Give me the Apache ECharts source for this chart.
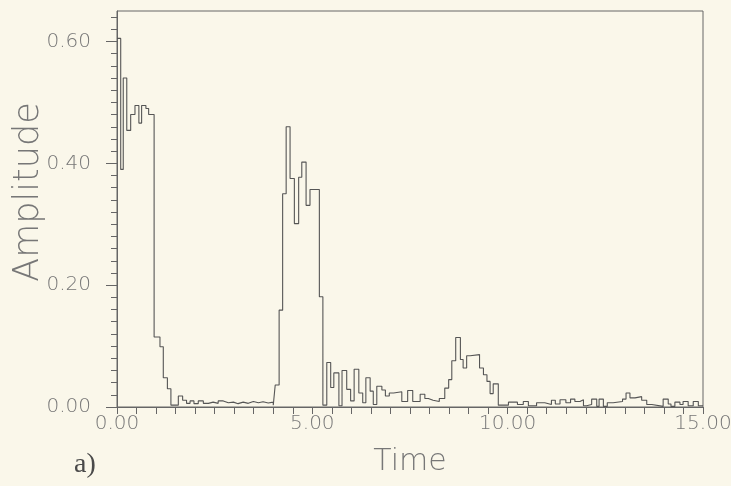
<!DOCTYPE html>
<html>
<head>
<meta charset="utf-8">
<script src="https://cdn.jsdelivr.net/npm/echarts@6/dist/echarts.min.js"></script>
<style>
  html, body { margin: 0; padding: 0; background: #faf7ea; }
  #chart { width: 731px; height: 486px; }
</style>
</head>
<body>
<div id="chart"></div>
<script>
// Left edge of each histogram step (time) and the amplitude held from that edge onward.
const stepTimes = [
  0.00, 0.095, 0.16, 0.25, 0.35, 0.46, 0.56, 0.63, 0.74, 0.81,
  0.95, 1.10, 1.185, 1.29, 1.38, 1.57, 1.68, 1.78, 1.87, 1.97,
  2.08, 2.21, 2.34, 2.46, 2.59, 2.72, 2.85, 2.98, 3.10, 3.23,
  3.36, 3.49, 3.62, 3.74, 3.87, 4.00, 4.05, 4.15, 4.24, 4.33,
  4.43, 4.54, 4.65, 4.73, 4.84, 4.94, 5.18, 5.27, 5.37, 5.47,
  5.55, 5.68, 5.76, 5.88, 5.98, 6.07, 6.19, 6.29, 6.37, 6.48,
  6.56, 6.65, 6.78, 6.87, 6.97, 7.08, 7.29, 7.44, 7.57, 7.76,
  7.88, 7.97, 8.09, 8.25, 8.39, 8.49, 8.57, 8.67, 8.79, 8.86,
  8.95, 9.04, 9.28, 9.38, 9.47, 9.55, 9.63, 9.76, 10.02, 10.25,
  10.40, 10.53, 10.74, 10.95, 11.12, 11.22, 11.34, 11.49, 11.61, 11.72,
  11.85, 11.94, 12.02, 12.15, 12.28, 12.34, 12.45, 12.55, 12.70, 12.94,
  13.03, 13.13, 13.26, 13.43, 13.56, 13.69, 13.98, 14.11, 14.18, 14.28,
  14.41, 14.49, 14.62, 14.75, 14.88
];
const amplitudes = [
  0.605, 0.390, 0.540, 0.454, 0.480, 0.495, 0.466, 0.495, 0.490, 0.480,
  0.115, 0.099, 0.048, 0.030, 0.003, 0.018, 0.011, 0.006, 0.010, 0.0055,
  0.010, 0.006, 0.008, 0.006, 0.010, 0.007, 0.008, 0.0055, 0.008, 0.006,
  0.009, 0.007, 0.0087, 0.0066, 0.008, 0.003, 0.036, 0.159, 0.350, 0.460,
  0.375, 0.301, 0.377, 0.402, 0.331, 0.357, 0.181, 0.003, 0.073, 0.032,
  0.056, 0.002, 0.060, 0.029, 0.010, 0.062, 0.023, 0.007, 0.048, 0.026,
  0.004, 0.034, 0.028, 0.018, 0.023, 0.025, 0.009, 0.027, 0.009, 0.021,
  0.014, 0.011, 0.009, 0.014, 0.031, 0.045, 0.076, 0.114, 0.078, 0.064,
  0.084, 0.086, 0.064, 0.053, 0.042, 0.022, 0.038, 0.003, 0.008, 0.004,
  0.009, 0.002, 0.007, 0.004, 0.011, 0.005, 0.012, 0.007, 0.013, 0.009,
  0.012, 0.002, 0.004, 0.013, 0.001, 0.013, 0.001, 0.007, 0.009, 0.013,
  0.023, 0.015, 0.017, 0.011, 0.004, 0.001, 0.013, 0.005, 0.001, 0.008,
  0.004, 0.009, 0.002, 0.009, 0.002
];
const timeEnd = 15.0;

const xLabelValues = [0, 5, 10, 15];
const yLabelValues = [0, 0.2, 0.4, 0.6];
const yMinorStep = 0.02;
const yTop = 0.65;

// minor tick positions along the amplitude axis
const yMinorTicks = [];
for (let v = 0; v <= 0.641; v += yMinorStep) yMinorTicks.push(Math.round(v * 100) / 100);

// step series: each point opens a bin, last point closes the final bin
const stepData = stepTimes.map((t, i) => [t, amplitudes[i]]);
stepData.push([timeEnd, amplitudes[amplitudes.length - 1]]);

const inkAxis = '#666666';
const inkText = '#777777';
const fontFam = '"DejaVu Sans", "Liberation Sans", sans-serif';

const chart = echarts.init(document.getElementById('chart'), null, { renderer: 'canvas' });
chart.setOption({
  backgroundColor: '#faf7ea',
  animation: false,
  grid: {
    left: 117, right: 28, top: 11, bottom: 79,
    outerBoundsMode: 'none',
    containLabel: false,
    show: true, borderColor: inkAxis, borderWidth: 1, backgroundColor: 'transparent'
  },
  xAxis: {
    type: 'value',
    min: 0, max: timeEnd, interval: 5,
    name: 'Time',
    nameLocation: 'middle',
    nameGap: 40,
    nameMoveOverlap: false,
    nameTextStyle: { fontFamily: fontFam, fontWeight: 200, fontSize: 30, color: inkText },
    axisLine: { show: true, lineStyle: { color: inkAxis, width: 1 } },
    axisTick: { show: true, inside: false, length: 7, lineStyle: { color: inkAxis } },
    minorTick: { show: true, splitNumber: 10, length: 7, lineStyle: { color: inkAxis } },
    splitLine: { show: false },
    minorSplitLine: { show: false },
    axisLabel: {
      customValues: xLabelValues,
      formatter: v => v.toFixed(2),
      margin: 7,
      fontFamily: fontFam, fontWeight: 200, fontSize: 20, color: inkText
    }
  },
  yAxis: [
    {
      type: 'value',
      min: 0, max: yTop,
      name: 'Amplitude',
      nameLocation: 'middle',
      nameGap: 71,
      nameRotate: 90,
      nameMoveOverlap: false,
      nameTextStyle: { fontFamily: fontFam, fontWeight: 200, fontSize: 35, color: inkText, padding: [0, 0, 0, 34] },
      axisLine: { show: true, lineStyle: { color: inkAxis, width: 1 } },
      axisTick: { show: true, inside: false, length: 11, customValues: yLabelValues, lineStyle: { color: inkAxis } },
      splitLine: { show: false },
      axisLabel: {
        customValues: yLabelValues,
        formatter: v => v.toFixed(2),
        margin: 26,
        fontFamily: fontFam, fontWeight: 200, fontSize: 20, color: inkText
      }
    },
    {
      type: 'value',
      min: 0, max: yTop,
      position: 'left',
      axisLine: { show: false },
      axisTick: { show: true, inside: false, length: 6, customValues: yMinorTicks, lineStyle: { color: inkAxis } },
      axisLabel: { show: false },
      splitLine: { show: false }
    }
  ],
  series: [
    {
      type: 'line',
      step: 'end',
      data: stepData,
      xAxisIndex: 0,
      yAxisIndex: 0,
      showSymbol: false,
      symbol: 'none',
      lineStyle: { color: '#555555', width: 1.1 },
      silent: true
    }
  ],
  graphic: [
    {
      type: 'text',
      left: 74, top: 451,
      style: { text: 'a)', font: '28px "Liberation Serif", serif', fill: '#4a4a4a' }
    }
  ]
});
</script>
</body>
</html>
